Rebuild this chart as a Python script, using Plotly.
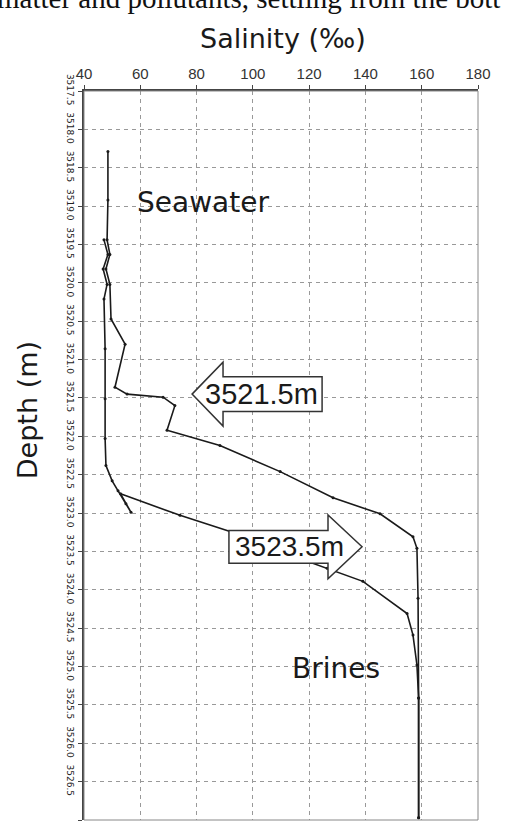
import plotly.graph_objects as go

# ---- data ----
sal_a = [48.5, 48.5, 48.2, 49.2, 47.8, 49.2, 49.6, 54.6, 51.0, 55.3, 68.1, 72.3, 69.5,
         88.3, 109.7, 128.5, 145.2, 156.9, 158.3, 158.7, 158.9, 158.9]
dep_a = [3518.29, 3518.92, 3519.44, 3519.63, 3519.82, 3520.02, 3520.47, 3520.80, 3521.36,
         3521.45, 3521.49, 3521.60, 3521.92, 3522.12, 3522.46, 3522.80, 3523.01, 3523.31,
         3523.46, 3524.11, 3525.41, 3526.97]

sal_b = [47.1, 48.5, 46.8, 48.2, 47.1, 47.5, 47.5, 47.5, 47.8, 50.0, 52.1, 54.9, 56.7,
         53.0, 74.1, 91.9, 109.7, 126.4, 139.1, 154.8, 156.9, 158.3, 158.9, 158.9]
dep_b = [3519.44, 3519.63, 3519.82, 3520.02, 3520.21, 3520.86, 3521.51, 3522.03, 3522.38,
         3522.58, 3522.71, 3522.88, 3522.99, 3522.75, 3523.03, 3523.24, 3523.50, 3523.72,
         3523.89, 3524.31, 3524.59, 3524.98, 3525.41, 3526.97]

x_ticks = [40, 60, 80, 100, 120, 140, 160, 180]
depth_min, depth_max, depth_step = 3517.5, 3527.0, 0.5
y_ticks = [depth_min + i * depth_step for i in range(int((depth_max - depth_min) / depth_step) + 1)]
y_labels = ["%.1f" % v for v in y_ticks]

arrow_labels = ["3521.5m", "3523.5m"]

fig = go.Figure()
for s, d in [(sal_a, dep_a), (sal_b, dep_b)]:
    fig.add_trace(go.Scatter(x=s, y=d, mode="lines+markers",
                             line=dict(color="#1a1a1a", width=1.6),
                             marker=dict(size=3, color="#1a1a1a"),
                             showlegend=False, hoverinfo="skip"))

# arrows (annotation shapes)
def left_arrow(tip_s, c, head_len, shaft_end, hh, sh):
    hb = tip_s + head_len
    return (f"M {tip_s},{c} L {hb},{c-hh} L {hb},{c-sh} L {shaft_end},{c-sh} "
            f"L {shaft_end},{c+sh} L {hb},{c+sh} L {hb},{c+hh} Z")

def right_arrow(tip_s, c, head_len, shaft_start, hh, sh):
    hb = tip_s - head_len
    return (f"M {tip_s},{c} L {hb},{c-hh} L {hb},{c-sh} L {shaft_start},{c-sh} "
            f"L {shaft_start},{c+sh} L {hb},{c+sh} L {hb},{c+hh} Z")

fig.add_shape(type="path", xref="x", yref="y", layer="above",
              path=left_arrow(78.4, 3521.45, 11.0, 124.6, 0.416, 0.227),
              fillcolor="white", line=dict(color="#333", width=1.5))
fig.add_shape(type="path", xref="x", yref="y", layer="above",
              path=right_arrow(138.8, 3523.44, 12.1, 91.5, 0.416, 0.214),
              fillcolor="white", line=dict(color="#333", width=1.5))

# border on right and bottom
fig.add_shape(type="rect", xref="paper", yref="paper", x0=0, x1=1, y0=0, y1=1,
              line=dict(color="#888", width=1), layer="above")

ann = []
ann.append(dict(text=arrow_labels[0], x=103.0, y=3521.45, xref="x", yref="y", showarrow=False,
                font=dict(family="Liberation Sans", size=29, color="#1a1a1a")))
ann.append(dict(text=arrow_labels[1], x=113.0, y=3523.44, xref="x", yref="y", showarrow=False,
                font=dict(family="Liberation Sans", size=28, color="#1a1a1a")))
ann.append(dict(text="Seawater", x=82.3, y=3518.95, xref="x", yref="y", showarrow=False,
                font=dict(family="DejaVu Sans", size=28, color="#1a1a1a")))
ann.append(dict(text="Brines", x=129.6, y=3525.02, xref="x", yref="y", showarrow=False,
                font=dict(family="DejaVu Sans", size=28, color="#1a1a1a")))
ann.append(dict(text="Salinity (‰)", x=0.505, y=1.072, xref="paper", yref="paper", showarrow=False,
                xanchor="center", yanchor="middle",
                font=dict(family="DejaVu Sans", size=27, color="#1a1a1a")))
ann.append(dict(text="Depth (m)", x=-0.145, y=0.562, xref="paper", yref="paper", showarrow=False,
                xanchor="center", yanchor="middle",
                textangle=-90, font=dict(family="DejaVu Sans", size=27, color="#1a1a1a")))
ann.append(dict(text="matter and pollutants, settling from the bott", x=-0.225, y=1.103,
                xref="paper", yref="paper", xanchor="left", yanchor="bottom", showarrow=False,
                font=dict(family="Liberation Serif", size=29, color="#111")))

fig.update_layout(
    width=505, height=828, margin=dict(l=84, r=27, t=91, b=8),
    paper_bgcolor="white", plot_bgcolor="white", annotations=ann,
)
fig.update_xaxes(range=[40, 180], side="top", tickvals=x_ticks,
                 ticktext=[str(v) for v in x_ticks],
                 tickfont=dict(family="Liberation Sans", size=15, color="#333"),
                 showline=True, linecolor="#444", linewidth=2,
                 ticks="outside", ticklen=4, tickcolor="#444",
                 showgrid=True, gridcolor="#999", gridwidth=1, griddash="4px,4px",
                 zeroline=False)
fig.update_yaxes(range=[depth_max, depth_min], tickvals=y_ticks, ticktext=y_labels,
                 tickangle=90, tickfont=dict(family="DejaVu Sans", size=9, color="#222"),
                 showline=True, linecolor="#444", linewidth=2,
                 ticks="outside", ticklen=4, tickcolor="#444",
                 showgrid=True, gridcolor="#999", gridwidth=1, griddash="4px,4px",
                 zeroline=False)

fig.write_html("out.html")
